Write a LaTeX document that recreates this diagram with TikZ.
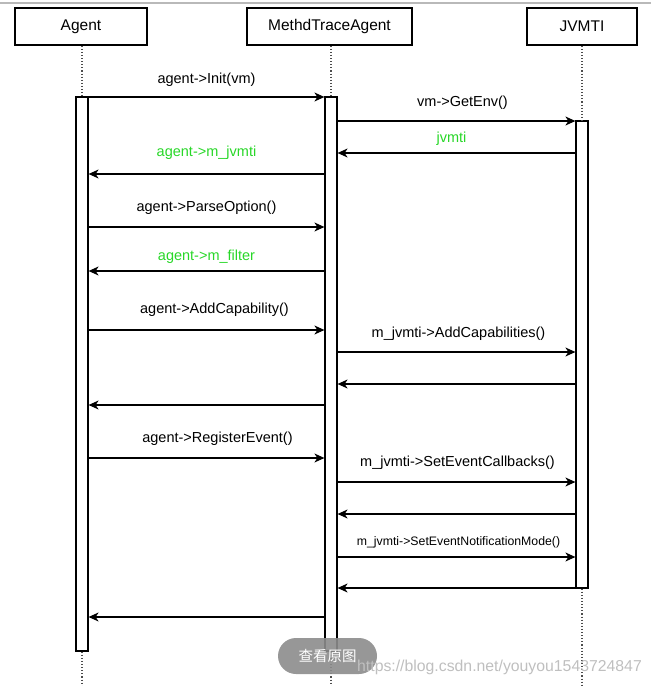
\documentclass[tikz,border=0pt]{standalone}
\usepackage{fontspec}
\setmainfont{Liberation Sans}
\newfontfamily\cjkfont{Noto Sans CJK SC}
\usetikzlibrary{arrows.meta}
\definecolor{msggreen}{RGB}{40,215,40}
\tikzset{
  header/.style={draw, line width=1.3pt, minimum height=37pt, inner sep=0pt, font=\fontsize{15.5}{17}\selectfont},
  bar/.style={draw, line width=1.2pt, fill=white, minimum width=12pt, inner sep=0pt},
  life/.style={dotted, line width=1.1pt, black!70},
  msg/.style={line width=1.2pt, -{Stealth[length=10pt,width=9pt,inset=3pt]}},
  lbl/.style={font=\fontsize{14.5}{16}\selectfont, inner sep=0pt},
  glbl/.style={lbl, text=msggreen},
}
\begin{document}
\begin{tikzpicture}[x=1pt,y=-1pt]
\useasboundingbox (0,0) rectangle (651,686);
\draw[gray!55, line width=1.5pt] (0,3) -- (651,3);

% headers
\node[header, minimum width=132pt] (hA) at (81,26.5) {Agent};
\node[header, minimum width=165pt] (hM) at (329.5,26.5) {MethdTraceAgent};
\node[header, minimum width=110pt] (hJ) at (582,26.5) {JVMTI};

% lifeline end coordinates
\coordinate (endA) at (82,686);
\coordinate (endM) at (331,686);
\coordinate (endJ) at (582,686);

% activation bars
\node[bar, minimum height=554pt] (bA) at (82,374) {};
\node[bar, minimum height=554pt] (bM) at (331,374) {};
\node[bar, minimum height=467pt] (bJ) at (582,354.5) {};

% lifelines
\draw[life] (hA.south -| bA.north) -- (bA.north);
\draw[life] (bA.south) -- (endA);
\draw[life] (hM.south -| bM.north) -- (bM.north);
\draw[life] (bM.south) -- (endM);
\draw[life] (hJ.south -| bJ.north) -- (bJ.north);
\draw[life] (bJ.south) -- (endJ);

% message rows
\coordinate (r1) at (0,97);
\coordinate (r2) at (0,121);
\coordinate (r3) at (0,153);
\coordinate (r4) at (0,174);
\coordinate (r5) at (0,227);
\coordinate (r6) at (0,271);
\coordinate (r7) at (0,330);
\coordinate (r8) at (0,352);
\coordinate (r9) at (0,384);
\coordinate (r10) at (0,405);
\coordinate (r11) at (0,458);
\coordinate (r12) at (0,482);
\coordinate (r13) at (0,514);
\coordinate (r14) at (0,557);
\coordinate (r15) at (0,588);
\coordinate (r16) at (0,617);

\draw[msg] (bA.east |- r1) -- (bM.west |- r1) node[midway, lbl, yshift=17pt] {agent->Init(vm)};
\draw[msg] (bM.east |- r2) -- (bJ.west |- r2) node[midway, lbl, yshift=18pt, xshift=6pt] {vm->GetEnv()};
\draw[msg] (bJ.west |- r3) -- (bM.east |- r3) node[midway, glbl, yshift=14pt, xshift=-5pt] {jvmti};
\draw[msg] (bM.west |- r4) -- (bA.east |- r4) node[midway, glbl, yshift=21pt] {agent->m\_jvmti};
\draw[msg] (bA.east |- r5) -- (bM.west |- r5) node[midway, lbl, yshift=19pt] {agent->ParseOption()};
\draw[msg] (bM.west |- r6) -- (bA.east |- r6) node[midway, glbl, yshift=14pt] {agent->m\_filter};
\draw[msg] (bA.east |- r7) -- (bM.west |- r7) node[midway, lbl, yshift=20pt, xshift=8pt] {agent->AddCapability()};
\draw[msg] (bM.east |- r8) -- (bJ.west |- r8) node[midway, lbl, yshift=18pt, xshift=2pt] {m\_jvmti->AddCapabilities()};
\draw[msg] (bJ.west |- r9) -- (bM.east |- r9);
\draw[msg] (bM.west |- r10) -- (bA.east |- r10);
\draw[msg] (bA.east |- r11) -- (bM.west |- r11) node[midway, lbl, yshift=19pt, xshift=11pt] {agent->RegisterEvent()};
\draw[msg] (bM.east |- r12) -- (bJ.west |- r12) node[midway, lbl, yshift=19pt, xshift=1pt] {m\_jvmti->SetEventCallbacks()};
\draw[msg] (bJ.west |- r13) -- (bM.east |- r13);
\draw[msg] (bM.east |- r14) -- (bJ.west |- r14) node[midway, lbl, font=\fontsize{12.3}{14}\selectfont, yshift=15pt, xshift=2pt] {m\_jvmti->SetEventNotificationMode()};
\draw[msg] (bJ.west |- r15) -- (bM.east |- r15);
\draw[msg] (bM.west |- r16) -- (bA.east |- r16);

% overlay button and watermark
\node[fill=black!45, fill opacity=0.9, text opacity=1, text=white, rounded corners=18pt,
      minimum width=99pt, minimum height=36pt, inner sep=0pt,
      font=\cjkfont\fontsize{14.5}{16}\selectfont] (btn) at (327.5,656) {查看原图};
\node[text=black!25, font=\fontsize{15.8}{17}\selectfont, inner sep=0pt, anchor=west] (wm) at (357,667) {https://blog.csdn.net/youyou1543724847};
\end{tikzpicture}
\end{document}
